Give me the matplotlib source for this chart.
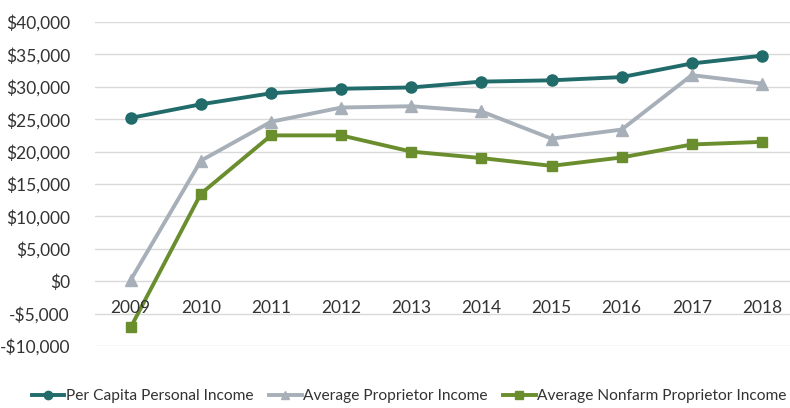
from matplotlib import pyplot as plt
from matplotlib.ticker import FuncFormatter

years = ["2009", "2010", "2011", "2012", "2013", "2014", "2015", "2016", "2017", "2018"]
per_capita = [25200, 27300, 29000, 29700, 29900, 30800, 31000, 31500, 33600, 34800]
proprietor = [200, 18600, 24600, 26800, 27000, 26200, 22000, 23400, 31800, 30500]
nonfarm = [-7100, 13500, 22500, 22500, 20000, 19000, 17800, 19100, 21100, 21500]

plt.rcParams['font.family'] = ['Lato', 'DejaVu Sans']

fig = plt.figure(figsize=(7.9, 4.08), dpi=100)
ax = fig.add_axes([95 / 790, 62 / 408, 1 - 95 / 790, 324 / 408])

x = range(len(years))
ax.plot(x, per_capita, color='#216B6B', lw=2.8, marker='o', ms=8, label='Per Capita Personal Income')
ax.plot(x, proprietor, color='#A7AFB8', lw=2.8, marker='^', ms=8, label='Average Proprietor Income')
ax.plot(x, nonfarm, color='#6A8E2E', lw=2.8, marker='s', ms=7, label='Average Nonfarm Proprietor Income')

ax.set_ylim(-10000, 40000)
ax.set_xlim(-0.51, 9.4)
ax.set_yticks(range(-10000, 40001, 5000))
ax.yaxis.set_major_formatter(FuncFormatter(lambda v, p: f"${v:,.0f}" if v >= 0 else f"-${-v:,.0f}"))
ax.grid(axis='y', color='#D9D9D9', lw=1)
ax.set_axisbelow(True)
for s in ax.spines.values():
    s.set_visible(False)
ax.tick_params(axis='y', length=0, labelsize=12.5, colors='#333333', pad=18)

# category labels sit just below the zero line, like Excel
ax.set_xticks(list(x))
ax.set_xticklabels([])
ax.tick_params(axis='x', length=0)
for i, yr in enumerate(years):
    ax.text(i, -4200, yr, ha='center', va='center', fontsize=12.5, color='#333333')

leg = ax.legend(loc='center', bbox_to_anchor=(0.452, -0.155), ncol=3, frameon=False,
                fontsize=11.2, handlelength=2.1, handletextpad=0.1, columnspacing=1.0,
                labelcolor='#333333', markerscale=0.75)

fig.savefig('out.png', dpi=100)
